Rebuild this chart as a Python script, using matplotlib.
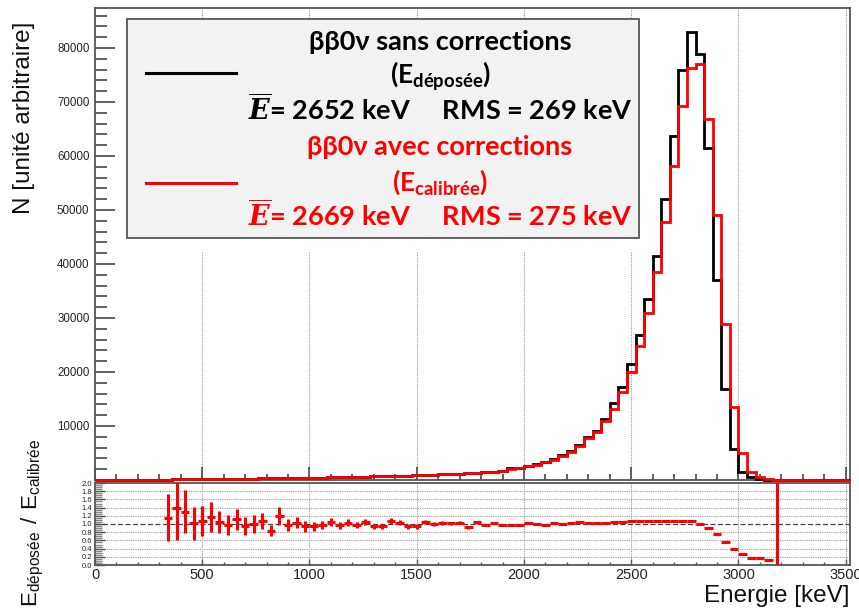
import numpy as np
import matplotlib
matplotlib.use("Agg")
import matplotlib.pyplot as plt
from matplotlib.ticker import MultipleLocator
from matplotlib.patches import Rectangle
from matplotlib.lines import Line2D

plt.rcParams['mathtext.fontset'] = 'custom'
plt.rcParams['mathtext.rm'] = 'Lato:bold'
plt.rcParams['mathtext.bf'] = 'Lato:bold'
plt.rcParams['mathtext.it'] = 'DejaVu Serif:italic:bold'
plt.rcParams['mathtext.sf'] = 'Liberation Sans'
plt.rcParams['font.family'] = ['Liberation Sans', 'DejaVu Sans']

# ---------------- data ----------------
bin_width = 40
x_max = 3520
first_bin = 320  # first non-empty bin (keV)

# counts per 40 keV bin, starting at 320 keV
n_deposee = [80, 100, 115, 130, 150, 165, 185, 200, 220, 240,
             260, 280, 300, 320, 345, 370, 395, 420, 450, 480,
             510, 540, 575, 610, 650, 690, 730, 780, 830, 880,
             930, 990, 1050, 1110, 1180, 1250, 1330, 1420, 1520, 1640,
             2150, 2300, 2600, 2900, 3400, 3900, 4600, 5400, 6500, 7900,
             9100, 11300, 14300, 17200, 21500, 26900, 33500, 41400, 52000, 63700,
             76000, 83000, 78900, 61500, 37100, 16800, 5700, 1500, 500, 150,
             30, 0, 0, 0, 0, 0, 0, 0, 0, 0]
n_calibree = [80, 100, 115, 130, 150, 165, 185, 200, 220, 240,
              260, 280, 300, 320, 345, 370, 395, 420, 450, 480,
              510, 540, 575, 610, 650, 690, 730, 780, 830, 880,
              930, 990, 1050, 1110, 1180, 1250, 1330, 1420, 1520, 1640,
              2100, 2250, 2500, 2800, 3250, 3750, 4400, 5100, 6300, 7700,
              8800, 11000, 13200, 16300, 20000, 24900, 31000, 38600, 47700, 58200,
              69250, 76300, 77100, 66900, 49000, 28800, 13500, 5000, 1500, 500,
              150, 50, 0, 0, 0, 0, 0, 0, 0, 0]

# ratio E_deposee / E_calibree, bin centres in keV
ratio_x = [340, 380, 420, 460, 500, 540, 580, 620, 660, 700,
           740, 780, 820, 860, 900, 940, 980, 1020, 1060, 1100,
           1140, 1180, 1220, 1260, 1300, 1340, 1380, 1420, 1460, 1500,
           1540, 1580, 1620, 1660, 1700, 1740, 1780, 1820, 1860, 1900,
           1940, 1980, 2020, 2060, 2100, 2140, 2180, 2220, 2260, 2300,
           2340, 2380, 2420, 2460, 2500, 2540, 2580, 2620, 2660, 2700,
           2740, 2780, 2820, 2860, 2900, 2940, 2980, 3020, 3060, 3100,
           3140]
ratio_y = [1.15, 1.40, 1.30, 1.02, 1.07, 1.17, 1.05, 0.98, 1.11, 0.94,
           1.01, 1.07, 0.84, 1.20, 0.98, 1.03, 0.94, 0.94, 0.97, 1.05,
           0.97, 1.03, 0.98, 1.05, 0.94, 0.94, 1.07, 1.03, 0.95, 0.95,
           1.05, 1.01, 1.02, 1.02, 1.03, 0.92, 1.04, 0.98, 1.02, 0.98,
           0.98, 0.97, 1.02, 1.01, 0.98, 1.02, 1.00, 1.02, 1.04, 1.02,
           1.03, 1.03, 1.06, 1.06, 1.07, 1.07, 1.07, 1.07, 1.08, 1.08,
           1.08, 1.08, 1.01, 0.90, 0.75, 0.55, 0.40, 0.26, 0.17, 0.16,
           0.12]
ratio_err = [0.57, 0.80, 0.53, 0.40, 0.36, 0.36, 0.27, 0.25, 0.26, 0.22,
             0.22, 0.20, 0.14, 0.22, 0.15, 0.13, 0.13, 0.11, 0.10, 0.10,
             0.09, 0.09, 0.08, 0.08, 0.07, 0.07, 0.07, 0.06, 0.06, 0.06,
             0.05, 0.05, 0.05, 0.04, 0.04, 0.04, 0.04, 0.03, 0.03, 0.03,
             0.03, 0.03, 0.02, 0.02, 0.02, 0.02, 0.02, 0.02, 0.02, 0.01,
             0.01, 0.01, 0.01, 0.01, 0.01, 0.01, 0.01, 0.01, 0.01, 0.01,
             0.01, 0.01, 0.01, 0.01, 0.01, 0.01, 0.01, 0.01, 0.01, 0.01,
             0.03]
spike_x = 3180
spike_y = 1.0
spike_err = 10.0

x_major_ticks = [0, 500, 1000, 1500, 2000, 2500, 3000, 3500]
y_major_ticks = [10000, 20000, 30000, 40000, 50000, 60000, 70000, 80000]
ratio_ticks = [0.0, 0.2, 0.4, 0.6, 0.8, 1.0, 1.2, 1.4, 1.6, 1.8, 2.0]

legend_lines = [
    ("ββ0ν sans corrections", r"(E$_{\mathrm{déposée}}$)",
     r"$\overline{E}$= 2652 keV     RMS = 269 keV", "black"),
    ("ββ0ν avec corrections", r"(E$_{\mathrm{calibrée}}$)",
     r"$\overline{E}$= 2669 keV     RMS = 275 keV", "#ff0000"),
]

# ---------------- figure ----------------
W, H = 859, 609
fig = plt.figure(figsize=(W / 100, H / 100), dpi=100)


def fx(px):
    return px / W


def fy(py):
    return 1 - py / H


ax = fig.add_axes([fx(95), fy(480), fx(850) - fx(95), fy(8) - fy(480)])
axr = fig.add_axes([fx(95), fy(565), fx(850) - fx(95), fy(483) - fy(565)])

n_empty = first_bin // bin_width
edges = np.arange(0, x_max + 1, bin_width)
dep = np.array([0] * n_empty + n_deposee, dtype=float)
cal = np.array([0] * n_empty + n_calibree, dtype=float)

ax.stairs(dep, edges, color='black', lw=2.0, baseline=0, zorder=3, clip_on=False)
ax.stairs(cal, edges, color='#ff0000', lw=2.0, baseline=0, zorder=4, clip_on=False)

ax.set_xlim(0, x_max)
ax.set_ylim(0, 87400)
ax.set_xticks(x_major_ticks)
ax.set_xticklabels([])
ax.xaxis.set_minor_locator(MultipleLocator(100))
ax.set_yticks(y_major_ticks)
ax.yaxis.set_minor_locator(MultipleLocator(2000))
ax.tick_params(axis='both', which='both', direction='in', colors='#555555', width=1.3)
ax.tick_params(axis='x', which='major', length=9.5, top=False)
ax.tick_params(axis='x', which='minor', length=4.5)
ax.tick_params(axis='y', which='major', length=14.5, labelsize=8.3, labelcolor='#222222', pad=4)
ax.tick_params(axis='y', which='minor', length=8.5)
for g in x_major_ticks[1:]:
    ax.axvline(g, color='#999999', lw=0.8, ls=(0, (1, 1)), zorder=1)
for s in ax.spines.values():
    s.set_color('#555555')
    s.set_linewidth(1.3)
    s.set_zorder(2)

# ratio panel
axr.errorbar(ratio_x, ratio_y, yerr=ratio_err, xerr=bin_width / 2, fmt='none',
             ecolor='#ff0000', elinewidth=2.2, capsize=0, zorder=4)
axr.errorbar([spike_x], [spike_y], yerr=[spike_err], fmt='none',
             ecolor='#ff0000', elinewidth=2.2, capsize=0, zorder=4)
axr.set_xlim(0, x_max)
axr.set_ylim(0, 2.0)
axr.set_xticks(x_major_ticks)
axr.set_yticks(ratio_ticks)
axr.set_yticklabels([f"{v:.1f}" for v in ratio_ticks])
axr.yaxis.set_minor_locator(MultipleLocator(0.05))
axr.xaxis.set_minor_locator(MultipleLocator(100))
axr.tick_params(axis='both', which='both', direction='in', colors='#555555', width=1.0)
axr.tick_params(axis='x', which='major', length=4, labelsize=10.5, labelcolor='#222222', pad=2)
axr.tick_params(axis='x', which='minor', length=2)
axr.tick_params(axis='y', which='major', length=7, labelsize=5.5, labelcolor='#222222', pad=2)
axr.tick_params(axis='y', which='minor', length=5, color='#888888')
for g in x_major_ticks[1:]:
    axr.axvline(g, color='#999999', lw=0.8, ls=(0, (1, 1)), zorder=1)
for g in ratio_ticks[1:-1]:
    if g != 1.0:
        axr.axhline(g, color='#999999', lw=0.8, ls=(0, (1, 1)), zorder=1)
axr.axhline(1.0, color='#444444', lw=0.9, ls=(0, (4, 2)), zorder=2)
for s in axr.spines.values():
    s.set_color('#555555')
    s.set_linewidth(1.3)

# axis labels
fig.text(fx(24), fy(118), "N [unité arbitraire]", rotation=90, ha='center', va='center',
         fontsize=17.5, color='#111111')
fig.text(fx(33), fy(523), r"$\mathsf{E_{déposée}\ /\ E_{calibrée}}$", rotation=90,
         ha='center', va='center', fontsize=16, color='#111111')
fig.text(fx(850), fy(596), "Energie [keV]", ha='right', va='center', fontsize=17.5,
         color='#111111')

# legend box
fig.patches.append(Rectangle((fx(127), fy(252)), fx(640) - fx(127), fy(237) - fy(252),
                             transform=fig.transFigure, facecolor='white',
                             edgecolor='none', zorder=2))
fig.patches.append(Rectangle((fx(127), fy(238)), fx(639) - fx(127), fy(19) - fy(238),
                             transform=fig.transFigure, facecolor='#f2f2f2',
                             edgecolor='#555555', lw=1.3, zorder=3))
line_y = [73, 183]
text_y = [(42, 76, 108), (147, 182, 214)]
for (t1, t2, t3, c), ly, ty in zip(legend_lines, line_y, text_y):
    fig.lines.append(Line2D([fx(146), fx(236)], [fy(ly), fy(ly)], color=c, lw=2.2,
                            transform=fig.transFigure, zorder=4))
    fig.text(fx(440), fy(ty[0]), t1, ha='center', va='center', fontsize=19.5,
             family='Lato', weight='bold', color=c, zorder=5)
    fig.text(fx(440), fy(ty[1]), t2, ha='center', va='center', fontsize=19,
             family='Lato', weight='bold', color=c, zorder=5)
    fig.text(fx(440), fy(ty[2]), t3, ha='center', va='center', fontsize=19.5,
             family='Lato', weight='bold', color=c, zorder=5)

fig.savefig("out.png", dpi=100)
